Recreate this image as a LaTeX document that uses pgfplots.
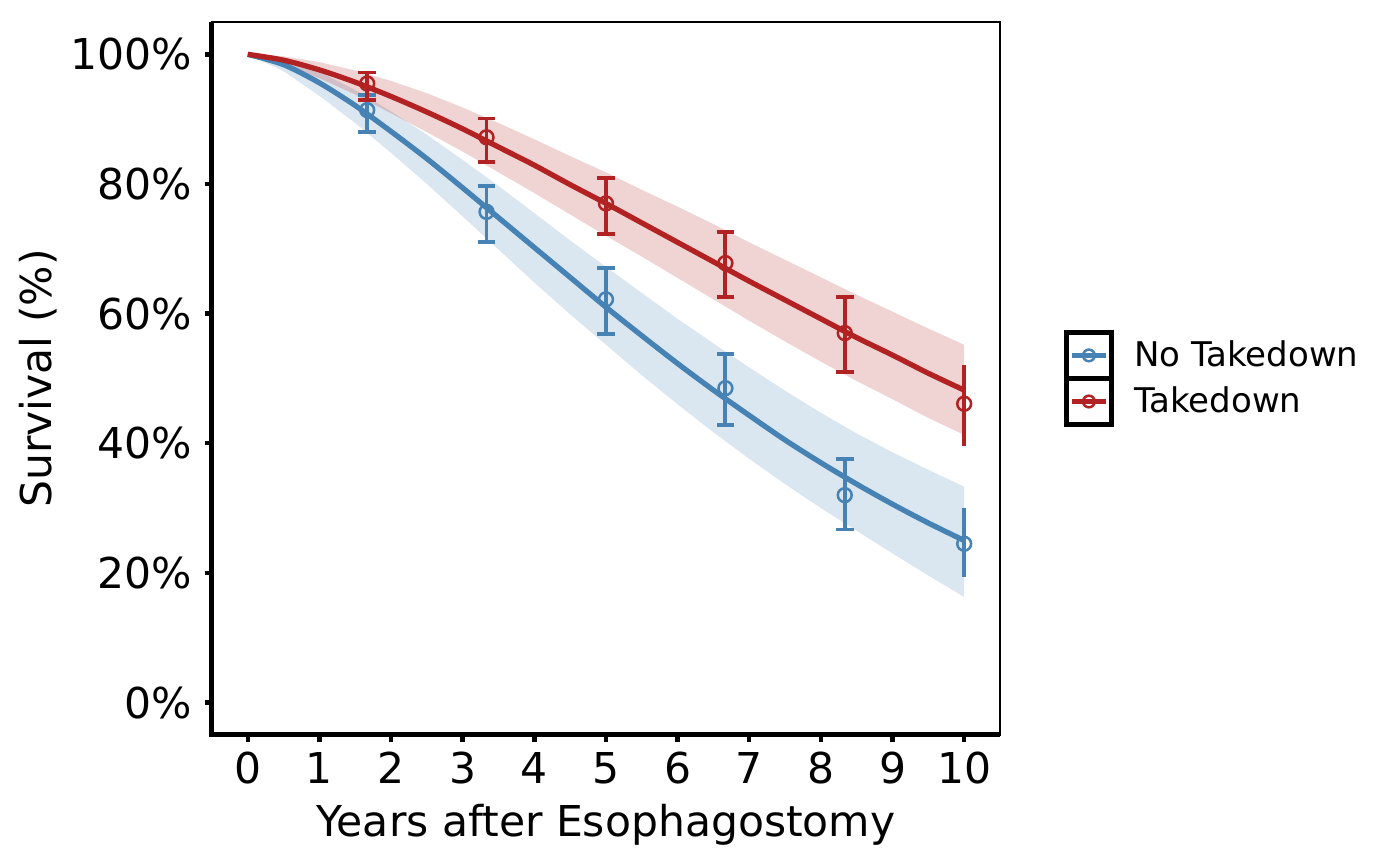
\documentclass[border=0pt]{standalone}
\usepackage{pgfplots}
\pgfplotsset{compat=1.18}
\usepackage{fontspec}
\setmainfont{DejaVu Sans}
\definecolor{bl}{RGB}{70,130,180}
\definecolor{rd}{RGB}{178,34,34}
\begin{document}
\begin{tikzpicture}
\begin{axis}[
  scale only axis, width=283.7pt, height=256.7pt,
  xmin=-0.5, xmax=10.5, ymin=-5, ymax=105,
  xtick={0,1,...,10}, ytick={0,20,40,60,80,100},
  xtick pos=bottom, ytick pos=left,
  yticklabels={0\%,20\%,40\%,60\%,80\%,100\%},
  /pgf/number format/assume math mode=true,
  font=\fontsize{15.3}{18.4}\selectfont,
  yticklabel style={xshift=-1pt},
  tick align=outside, major tick length=2.6pt,
  tick style={black, line width=1.6pt},
  axis line style={black, line width=0.9pt},
  xlabel={Years after Esophagostomy}, ylabel={Survival (\%)},
  xlabel style={at={(axis description cs:0.5,-0.1418)}, anchor=base},
  ylabel style={at={(axis description cs:-0.203,0.5)}, anchor=base},
  legend style={at={(1,0.5)}, anchor=west, xshift=22.7pt, draw=none, fill=none,
    inner sep=0pt, row sep=-1.8pt, font=\fontsize{12.25}{14.5}\selectfont,
    nodes={inner sep=0pt},
    /tikz/every odd column/.append style={column sep=7.2pt}},
  legend cell align=left,
  legkey/.style={legend image code/.code={
    \draw[black,line width=1.8pt] (0pt,-8.3pt) rectangle (16.4pt,8.3pt);
    \draw[line width=1.8pt] (2pt,0pt) -- (14.4pt,0pt);
    \draw[line width=0.9pt] (8.2pt,0pt) circle (2.1pt);
  }},
  after end axis/.code={\draw[black, line width=1.8pt] (rel axis cs:0,1) -- (rel axis cs:0,0) -- (rel axis cs:1,0);}
]
% confidence bands
\addplot[draw=none, fill=bl, fill opacity=0.2, forget plot] coordinates {
 (0,100) (0.5,99.2) (1,97.3) (1.5,94.5) (2,91.2) (2.5,87.6) (3,83.7) (3.5,79.7) (4,75.5) (4.5,71.3) (5,67.2) (5.5,63.2) (6,59.2) (6.5,55.4) (7,51.7) (7.5,48.1) (8,44.7) (8.5,41.5) (9,38.6) (9.5,35.9) (10,33.3)
 (10,16.3) (9.5,19.6) (9,23.0) (8.5,26.5) (8,30.0) (7.5,33.7) (7,37.6) (6.5,41.7) (6,46.0) (5.5,50.5) (5,55.2) (4.5,59.9) (4,64.8) (3.5,69.9) (3,75.0) (2.5,80.0) (2,84.8) (1.5,89.4) (1,93.6) (0.5,97.4) (0,100)
} -- cycle;
\addplot[draw=none, fill=rd, fill opacity=0.2, forget plot] coordinates {
 (0,100) (0.5,99.7) (1,98.8) (1.5,97.5) (2,95.9) (2.5,94.0) (3,91.8) (3.5,89.4) (4,86.9) (4.5,84.3) (5,81.8) (5.5,79.1) (6,76.5) (6.5,73.8) (7,71.0) (7.5,68.3) (8,65.6) (8.5,62.9) (9,60.3) (9.5,57.7) (10,55.2)
 (10,41.3) (9.5,43.9) (9,46.8) (8.5,49.6) (8,52.6) (7.5,55.7) (7,58.9) (6.5,62.2) (6,65.5) (5.5,68.8) (5,72.0) (4.5,75.3) (4,78.6) (3.5,81.8) (3,85.0) (2.5,88.0) (2,90.9) (1.5,93.8) (1,96.3) (0.5,98.5) (0,100)
} -- cycle;
% fitted curves
\addplot[bl, line width=1.9pt, smooth, forget plot] coordinates {
 (0,100) (0.5,98.4) (1,95.6) (1.5,92.1) (2,88.1) (2.5,83.9) (3,79.4) (3.5,74.8) (4,70.2) (4.5,65.6) (5,61.0) (5.5,56.6) (6,52.3) (6.5,48.2) (7,44.3) (7.5,40.5) (8,37.0) (8.5,33.7) (9,30.6) (9.5,27.7) (10,25.0)
};
\addplot[rd, line width=1.9pt, smooth, forget plot] coordinates {
 (0,100) (0.5,99.1) (1,97.6) (1.5,95.7) (2,93.5) (2.5,91.1) (3,88.5) (3.5,85.7) (4,82.9) (4.5,79.9) (5,77.0) (5.5,74.0) (6,71.0) (6.5,68.0) (7,65.0) (7.5,62.1) (8,59.2) (8.5,56.3) (9,53.6) (9.5,50.8) (10,48.2)
};
% observed with error bars
\addplot[bl, only marks, mark=o, mark size=2.5pt, mark options={line width=0.9pt}, forget plot,
  error bars/.cd, y dir=both, y explicit, error bar style={line width=1.4pt},
  error mark options={rotate=90, line width=1.4pt, mark size=3.2pt}] coordinates {
 (1.667,91.4) += (0,2.3) -= (0,3.4)
 (3.333,75.7) += (0,4.0) -= (0,4.7)
 (5,62.2) += (0,4.8) -= (0,5.3)
 (6.667,48.5) += (0,5.3) -= (0,5.7)
 (8.333,32.0) += (0,5.6) -= (0,5.3)
};
\addplot[bl, only marks, mark=o, mark size=2.5pt, mark options={line width=0.9pt}, forget plot,
  error bars/.cd, y dir=both, y explicit, error bar style={line width=1.4pt}, error mark=none] coordinates {
 (10,24.5) += (0,5.5) -= (0,5.2)
};
\addplot[rd, only marks, mark=o, mark size=2.5pt, mark options={line width=0.9pt}, forget plot,
  error bars/.cd, y dir=both, y explicit, error bar style={line width=1.4pt},
  error mark options={rotate=90, line width=1.4pt, mark size=3.2pt}] coordinates {
 (1.667,95.5) += (0,1.7) -= (0,2.6)
 (3.333,87.2) += (0,2.9) -= (0,3.8)
 (5,77.0) += (0,3.9) -= (0,4.7)
 (6.667,67.8) += (0,4.8) -= (0,5.2)
 (8.333,57.0) += (0,5.6) -= (0,6.0)
};
\addplot[rd, only marks, mark=o, mark size=2.5pt, mark options={line width=0.9pt}, forget plot,
  error bars/.cd, y dir=both, y explicit, error bar style={line width=1.4pt}, error mark=none] coordinates {
 (10,46.1) += (0,6.0) -= (0,6.5)
};
\addlegendimage{bl, legkey}
\addlegendentry{No Takedown}
\addlegendimage{rd, legkey}
\addlegendentry{Takedown}
\end{axis}
\pgfresetboundingbox
\path ([shift={(-76.3pt,-47.2pt)}]current axis.south west) rectangle ([shift={(144pt,7.9pt)}]current axis.north east);
\end{tikzpicture}
\end{document}
